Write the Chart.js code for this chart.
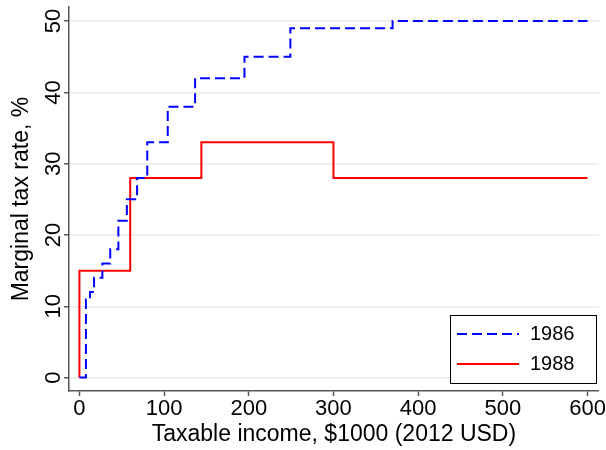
<!DOCTYPE html>
<html>
<head>
<meta charset="utf-8">
<script src="https://cdn.jsdelivr.net/npm/chart.js@4.4.0/dist/chart.umd.min.js"></script>
<style>
  html, body { margin: 0; padding: 0; background: #fff; }
</style>
</head>
<body>
<canvas id="myChart" width="606" height="450"></canvas>
<script>
// bracket start ($1000, 2012 USD) and marginal rate (%)
const income1986 = [0, 7.7, 12.5, 17.3, 27.1, 36.4, 46, 56, 68.1, 80.1, 104.3, 136.6, 194.9, 249.1, 369.8, 600];
const rate1986 = [0, 11, 12, 14, 16, 18, 22, 25, 28, 33, 38, 42, 45, 49, 50, 50];
const income1988 = [0, 0, 60, 144, 300, 600];
const rate1988 = [0, 15, 28, 33, 28, 28];

const xTicks = [0, 100, 200, 300, 400, 500, 600];
const yTicks = [0, 10, 20, 30, 40, 50];
const seriesNames = ["1986", "1988"];

const FONT = '"Liberation Sans", Arial, Helvetica, sans-serif';
const axisGrey = '#555555';

function toPoints(xs, ys) {
  return xs.map((x, i) => ({ x: x, y: ys[i] }));
}

// stata-ish extras: rotated y labels, y title, legend box inside plot
const extras = {
  id: 'extras',
  afterDraw(chart) {
    const ctx = chart.ctx;
    const y = chart.scales.y;
    ctx.save();
    ctx.fillStyle = '#000';
    ctx.font = '22px ' + FONT;
    ctx.textAlign = 'center';
    ctx.textBaseline = 'middle';
    yTicks.forEach(v => {
      ctx.save();
      ctx.translate(54, y.getPixelForValue(v));
      ctx.rotate(-Math.PI / 2);
      ctx.fillText(String(v), 0, 0);
      ctx.restore();
    });

    // y title
    ctx.save();
    ctx.font = '23px ' + FONT;
    ctx.translate(22, (chart.chartArea.top + chart.chartArea.bottom) / 2);
    ctx.rotate(-Math.PI / 2);
    ctx.fillText('Marginal tax rate, %', 0, 0);
    ctx.restore();

    // legend
    const bx = 450.5, by = 315.5, bw = 146, bh = 68;
    ctx.fillStyle = '#fff';
    ctx.fillRect(bx, by, bw, bh);
    ctx.strokeStyle = '#000';
    ctx.lineWidth = 1;
    ctx.strokeRect(bx, by, bw, bh);
    const ds = chart.data.datasets;
    [334, 364].forEach((ly, i) => {
      ctx.beginPath();
      ctx.strokeStyle = ds[i].borderColor;
      ctx.lineWidth = 2;
      ctx.setLineDash(ds[i].borderDash || []);
      ctx.moveTo(457, ly);
      ctx.lineTo(519, ly);
      ctx.stroke();
      ctx.setLineDash([]);
      ctx.fillStyle = '#000';
      ctx.font = '20px ' + FONT;
      ctx.textAlign = 'left';
      ctx.fillText(seriesNames[i], 530, ly);
    });
    ctx.restore();
  }
};

const ctx = document.getElementById('myChart').getContext('2d');
const myChart = new Chart(ctx, {
  type: 'line',
  data: {
    datasets: [{
      label: seriesNames[0],
      data: toPoints(income1986, rate1986),
      borderColor: '#0000ff',
      borderDash: [10, 5],
      borderWidth: 2,
      stepped: 'before',
      pointRadius: 0,
      fill: false
    }, {
      label: seriesNames[1],
      data: toPoints(income1988, rate1988),
      borderColor: '#ff0000',
      borderWidth: 2,
      stepped: 'before',
      pointRadius: 0,
      fill: false
    }]
  },
  options: {
    responsive: false,
    animation: false,
    layout: { padding: { top: 5, right: 6, left: 0, bottom: 0 } },
    plugins: { legend: { display: false }, tooltip: { enabled: false } },
    scales: {
      x: {
        type: 'linear',
        min: -12.3,
        max: 613.4,
        afterBuildTicks: s => { s.ticks = xTicks.map(v => ({ value: v })); },
        afterFit: s => { s.height = 59; },
        grid: { drawOnChartArea: false, drawTicks: true, tickLength: 5, tickColor: axisGrey, tickWidth: 1.5 },
        border: { color: axisGrey, width: 1.5 },
        ticks: { color: '#000', font: { family: FONT, size: 22 }, padding: 0, maxRotation: 0, autoSkip: false },
        title: { display: true, text: 'Taxable income, $1000 (2012 USD)', color: '#000', font: { family: FONT, size: 23 }, padding: { top: 0, bottom: 2 } }
      },
      y: {
        type: 'linear',
        min: -1.88,
        max: 51.95,
        afterBuildTicks: s => { s.ticks = yTicks.map(v => ({ value: v })); },
        afterFit: s => { s.width = 69; },
        grid: { color: '#eaeaea', lineWidth: 1.5, tickLength: 5, tickColor: axisGrey, tickWidth: 1.5 },
        border: { color: axisGrey, width: 1.5 },
        ticks: { callback: () => '', padding: 0 }
      }
    }
  },
  plugins: [extras]
});
</script>
</body>
</html>
